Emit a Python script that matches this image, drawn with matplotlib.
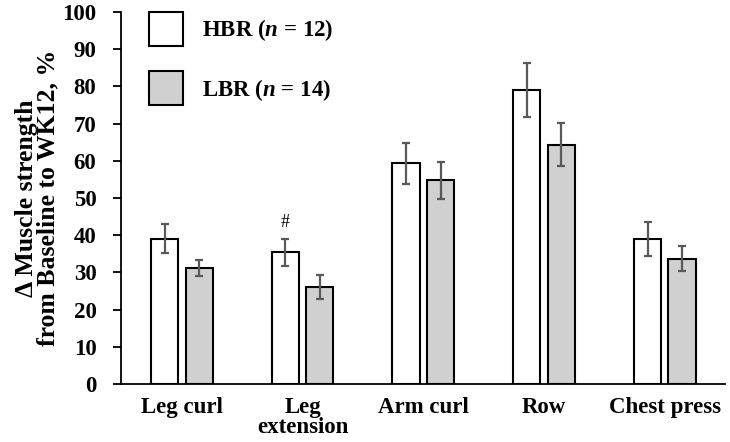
import numpy as np
import matplotlib
matplotlib.use("Agg")
import matplotlib.pyplot as plt

categories = ["Leg curl", "Leg\nextension", "Arm curl", "Row", "Chest press"]
hbr_mean = [39.1, 35.4, 59.3, 79.0, 39.0]
hbr_err = [4.0, 3.7, 5.4, 7.3, 4.5]
lbr_mean = [31.2, 26.1, 54.8, 64.3, 33.7]
lbr_err = [2.2, 3.3, 5.0, 5.8, 3.3]
hbr_label = r"HBR ($\mathbfit{n}$ = 12)"
lbr_label = r"LBR ($\mathbfit{n}$ = 14)"
y_ticks = list(range(0, 101, 10))

plt.rcParams["font.family"] = ["Liberation Serif", "DejaVu Serif"]
plt.rcParams["font.weight"] = "bold"
plt.rcParams["mathtext.fontset"] = "custom"
plt.rcParams["mathtext.rm"] = "Liberation Serif:bold"
plt.rcParams["mathtext.bfit"] = "Liberation Serif:bold:italic"
plt.rcParams["mathtext.it"] = "Liberation Serif:bold:italic"

fs = 16.5

fig = plt.figure(figsize=(7.3, 4.42), dpi=100)
ax = fig.add_axes([0.1664, 0.131, 0.827, 0.842])

x = np.arange(len(categories))
w = 0.225
off = 0.143
err_kw = dict(ecolor="#595959", elinewidth=1.6, capsize=3, capthick=1.6)
ax.bar(x - off, hbr_mean, w, yerr=hbr_err, color="white", edgecolor="black",
       linewidth=1.5, error_kw=err_kw, label=hbr_label, zorder=2)
ax.bar(x + off, lbr_mean, w, yerr=lbr_err, color="#d0d0d0", edgecolor="black",
       linewidth=1.5, error_kw=err_kw, label=lbr_label, zorder=2)

# significance marker over leg extension
ax.text(x[1] - off, hbr_mean[1] + hbr_err[1] + 2.0, "#", ha="center", va="bottom",
        fontsize=13, fontweight="normal")

ax.set_xlim(-0.5, 4.5)
ax.set_ylim(0, 100)
ax.set_yticks(y_ticks)
ax.set_xticks(x)
ax.set_xticklabels(categories, fontsize=fs, fontweight="bold", linespacing=0.95)
ax.tick_params(axis="x", length=0, pad=9)
ax.tick_params(axis="y", length=6, width=1.3, labelsize=fs, pad=12)
for lab in ax.get_yticklabels():
    lab.set_fontweight("bold")
ax.spines["top"].set_visible(False)
ax.spines["right"].set_visible(False)
ax.spines["left"].set_linewidth(1.3)
ax.spines["bottom"].set_linewidth(1.3)

ax.set_ylabel("\u0394 Muscle strength\nfrom Baseline to WK12, %", fontsize=18.5,
              fontweight="bold", linespacing=0.93, labelpad=2)

leg = ax.legend(loc="upper left", bbox_to_anchor=(0.045, 1.0), frameon=False,
                fontsize=fs, handlelength=1.48, handleheight=1.91,
                labelspacing=1.1, handletextpad=0.83, borderaxespad=0,
                borderpad=0)

fig.savefig("out.png", dpi=100)
